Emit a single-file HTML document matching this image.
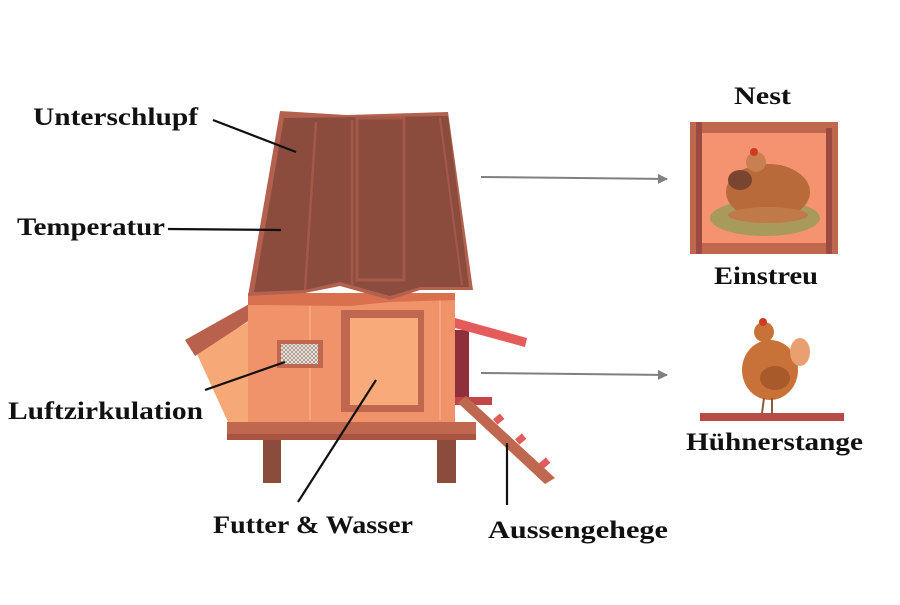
<!DOCTYPE html>
<html><head><meta charset="utf-8"><style>
body{margin:0;background:#fff;width:900px;height:600px;overflow:hidden}
svg text{font-family:"Liberation Serif",serif;font-weight:bold;font-size:25px;fill:#111}
</style></head><body>
<svg width="900" height="600" viewBox="0 0 900 600">
<defs>
<pattern id="mesh" width="4" height="4" patternUnits="userSpaceOnUse">
<rect width="4" height="4" fill="#eee"/><path d="M0 0L4 4M4 0L0 4" stroke="#a08070" stroke-width="0.7"/>
</pattern>
<marker id="ah" markerWidth="10" markerHeight="10" refX="9" refY="5" orient="auto" markerUnits="userSpaceOnUse">
<path d="M0 0L10 5L0 10z" fill="#808080"/></marker>
</defs>
<polygon points="196,352 248,322 248,422 228,422" fill="#f7a877"/>
<polygon points="185,340 260,298 262,312 195,356" fill="#b8624e"/>
<rect x="248" y="293" width="207" height="129" fill="#f0926a"/>
<line x1="310" y1="300" x2="310" y2="420" stroke="#f6a57c" stroke-width="2"/>
<line x1="440" y1="300" x2="440" y2="420" stroke="#f6a57c" stroke-width="2"/>
<polygon points="248,293 455,293 455,300 390,302 350,306 248,305" fill="#d9714f"/>
<rect x="277" y="340" width="46" height="28" fill="#c0674f"/>
<rect x="281" y="344" width="37" height="20" fill="url(#mesh)"/>
<rect x="341" y="310" width="83" height="102" fill="#c0674f"/>
<rect x="350" y="318" width="68" height="87" fill="#f8aa7a"/>
<rect x="455" y="330" width="14" height="70" fill="#8e2f3b"/>
<polygon points="455,318 527,338 525,347 455,328" fill="#e35b5b"/>
<rect x="455" y="397" width="37" height="8" fill="#c0464a"/>
<polygon points="458,403 466,396 555,478 545,484" fill="#c0674f"/>
<rect x="494" y="416" width="9" height="7" fill="#e35b5b" transform="rotate(-40 498 419)"/>
<rect x="516" y="436" width="9" height="7" fill="#e35b5b" transform="rotate(-40 520 439)"/>
<rect x="540" y="460" width="9" height="7" fill="#e35b5b" transform="rotate(-40 544 463)"/>
<rect x="227" y="422" width="249" height="18" fill="#c0674f"/>
<rect x="227" y="434" width="249" height="6" fill="#a95443"/>
<rect x="263" y="440" width="18" height="43" fill="#8b4c3e"/>
<rect x="437" y="440" width="19" height="43" fill="#8b4c3e"/>
<polygon points="280,111 346,115 448,112 473,290 420,290 390,300 340,286 305,293 248,296" fill="#b2614f"/>
<polygon points="284,118 448,116 469,287 420,287 390,296 340,282 305,290 254,292" fill="#8b4c3e"/>
<line x1="316" y1="122" x2="305" y2="290" stroke="#a5584a" stroke-width="2.5"/>
<line x1="352" y1="120" x2="352" y2="286" stroke="#a5584a" stroke-width="2.5"/>
<line x1="440" y1="118" x2="462" y2="285" stroke="#a5584a" stroke-width="2"/>
<rect x="357" y="118" width="47" height="162" fill="none" stroke="#a5584a" stroke-width="3"/>
<rect x="690" y="122" width="148" height="132" fill="#c0674f"/>
<rect x="702" y="133" width="124" height="110" fill="#f59270"/>
<rect x="696" y="122" width="6" height="132" fill="#9a4a40"/>
<rect x="826" y="128" width="6" height="126" fill="#9a4a40"/>
<ellipse cx="765" cy="218" rx="55" ry="18" fill="#a89a5a"/>
<ellipse cx="768" cy="192" rx="42" ry="28" fill="#b86a3a"/>
<ellipse cx="740" cy="180" rx="12" ry="10" fill="#7a4530"/>
<circle cx="756" cy="162" r="10" fill="#c88050"/>
<circle cx="754" cy="152" r="4" fill="#d03a20"/>
<ellipse cx="768" cy="215" rx="40" ry="8" fill="#c07a4a"/>
<ellipse cx="770" cy="370" rx="28" ry="30" fill="#c8723a"/>
<ellipse cx="800" cy="352" rx="10" ry="14" fill="#e8a070"/>
<circle cx="764" cy="332" r="10" fill="#c8723a"/>
<circle cx="763" cy="322" r="4" fill="#d03a20"/>
<ellipse cx="775" cy="378" rx="15" ry="12" fill="#a85a2a"/>
<line x1="764" y1="398" x2="762" y2="413" stroke="#8a5a3a" stroke-width="2"/>
<line x1="772" y1="398" x2="772" y2="413" stroke="#8a5a3a" stroke-width="2"/>
<rect x="700" y="413" width="144" height="8" fill="#b84a48"/>
<g stroke="#111" stroke-width="2.2">
<line x1="213" y1="120" x2="296" y2="152"/>
<line x1="168" y1="229" x2="281" y2="230"/>
<line x1="205" y1="390" x2="285" y2="362"/>
<line x1="298" y1="502" x2="376" y2="380"/>
<line x1="507" y1="505" x2="507" y2="443"/>
</g>
<g stroke="#808080" stroke-width="2">
<line x1="481" y1="177" x2="667" y2="179" marker-end="url(#ah)"/>
<line x1="481" y1="373" x2="667" y2="375" marker-end="url(#ah)"/>
</g>
<text x="33" y="125" textLength="165" lengthAdjust="spacingAndGlyphs">Unterschlupf</text>
<text x="17" y="235" textLength="148" lengthAdjust="spacingAndGlyphs">Temperatur</text>
<text x="8" y="419" textLength="195" lengthAdjust="spacingAndGlyphs">Luftzirkulation</text>
<text x="213" y="533" textLength="200" lengthAdjust="spacingAndGlyphs">Futter &amp; Wasser</text>
<text x="488" y="538" textLength="180" lengthAdjust="spacingAndGlyphs">Aussengehege</text>
<text x="734" y="104" textLength="57" lengthAdjust="spacingAndGlyphs">Nest</text>
<text x="714" y="284" textLength="104" lengthAdjust="spacingAndGlyphs">Einstreu</text>
<text x="686" y="450" textLength="177" lengthAdjust="spacingAndGlyphs">Hühnerstange</text>
</svg>
</body></html>
